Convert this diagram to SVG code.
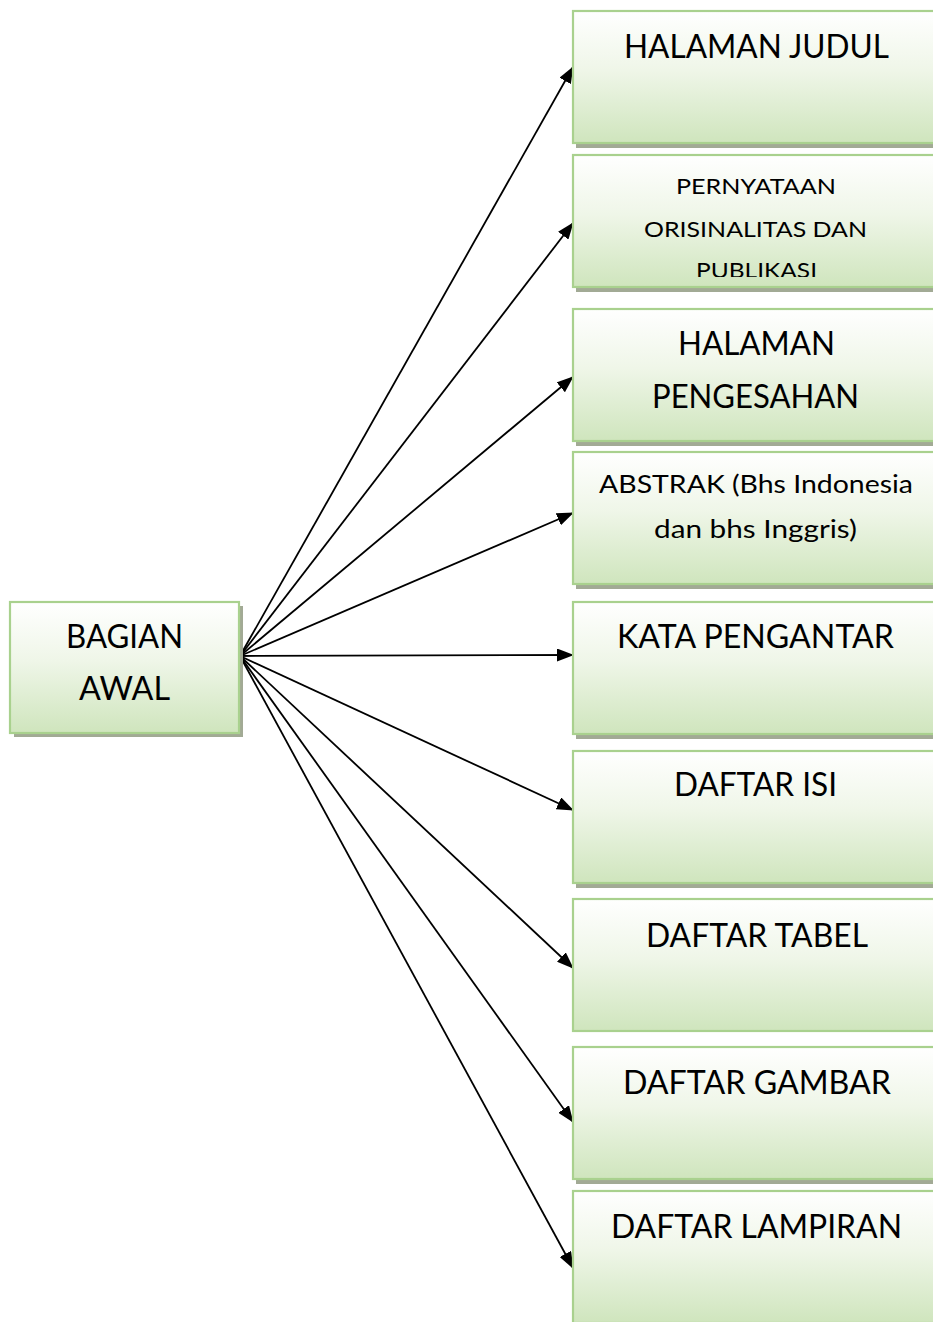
<svg xmlns="http://www.w3.org/2000/svg" width="933" height="1322" viewBox="0 0 933 1322">
<defs>
<linearGradient id="g" x1="0" y1="0" x2="0" y2="1">
<stop offset="0" stop-color="#ffffff"/>
<stop offset="0.45" stop-color="#eff6e8"/>
<stop offset="1" stop-color="#cfe5bd"/>
</linearGradient>
<marker id="ah" markerUnits="userSpaceOnUse" markerWidth="17" markerHeight="13" refX="16" refY="6.5" orient="auto">
<path d="M0,0 L17,6.5 L0,13 z" fill="#000"/>
</marker>
<clipPath id="c2"><rect x="573" y="155" width="360" height="122"/></clipPath>
</defs>
<style>
.box{fill:url(#g);stroke:#a9d18e;stroke-width:2.2}
.sh{fill:#a2aa95}
.t{font-family:Lato,"Open Sans","Noto Sans",sans-serif;fill:#000;text-anchor:middle}
.big{font-size:32px}
.med{font-size:25px}
.sm{font-size:22px}
.c{stroke:#000;stroke-width:1.8;fill:none;marker-end:url(#ah)}
</style>
<rect width="933" height="1322" fill="#fff"/>

<g id="connectors">
<line class="c" x1="240" y1="656" x2="573" y2="67"/>
<line class="c" x1="240" y1="656" x2="573" y2="223"/>
<line class="c" x1="240" y1="656" x2="573" y2="377"/>
<line class="c" x1="240" y1="656" x2="573" y2="513"/>
<line class="c" x1="240" y1="656" x2="573" y2="655"/>
<line class="c" x1="240" y1="656" x2="573" y2="810"/>
<line class="c" x1="240" y1="656" x2="573" y2="968"/>
<line class="c" x1="240" y1="656" x2="573" y2="1122"/>
<line class="c" x1="240" y1="656" x2="573" y2="1268"/>
</g>

<g id="bagian-awal">
<rect class="sh" x="14" y="606" width="229" height="131"/>
<rect class="box" x="10" y="602" width="229" height="131"/>
<text class="t big" x="124.5" y="648" textLength="117" lengthAdjust="spacingAndGlyphs">BAGIAN</text>
<text class="t big" x="124.5" y="700" textLength="91" lengthAdjust="spacingAndGlyphs">AWAL</text>
</g>

<g id="halaman-judul">
<rect class="sh" x="576" y="16" width="370" height="132"/>
<rect class="box" x="573" y="11" width="370" height="132"/>
<text class="t big" x="756.5" y="58" textLength="265" lengthAdjust="spacingAndGlyphs">HALAMAN JUDUL</text>
</g>

<g id="pernyataan">
<rect class="sh" x="576" y="160" width="370" height="132"/>
<rect class="box" x="573" y="155" width="370" height="132"/>
<g clip-path="url(#c2)">
<text class="t sm" x="756" y="194" textLength="160" lengthAdjust="spacingAndGlyphs">PERNYATAAN</text>
<text class="t sm" x="755.5" y="237" textLength="223" lengthAdjust="spacingAndGlyphs">ORISINALITAS DAN</text>
<text class="t sm" x="756.5" y="278" textLength="121" lengthAdjust="spacingAndGlyphs">PUBLIKASI</text>
</g>
</g>

<g id="halaman-pengesahan">
<rect class="sh" x="576" y="314" width="370" height="132"/>
<rect class="box" x="573" y="309" width="370" height="132"/>
<text class="t big" x="756.5" y="355" textLength="157" lengthAdjust="spacingAndGlyphs">HALAMAN</text>
<text class="t big" x="755.5" y="408" textLength="207" lengthAdjust="spacingAndGlyphs">PENGESAHAN</text>
</g>

<g id="abstrak">
<rect class="sh" x="576" y="457" width="370" height="132"/>
<rect class="box" x="573" y="452" width="370" height="132"/>
<text class="t med" x="756" y="493" textLength="314" lengthAdjust="spacingAndGlyphs">ABSTRAK (Bhs Indonesia</text>
<text class="t med" x="755.5" y="538" textLength="203" lengthAdjust="spacingAndGlyphs">dan bhs Inggris)</text>
</g>

<g id="kata-pengantar">
<rect class="sh" x="576" y="607" width="370" height="132"/>
<rect class="box" x="573" y="602" width="370" height="132"/>
<text class="t big" x="755.5" y="648" textLength="277" lengthAdjust="spacingAndGlyphs">KATA PENGANTAR</text>
</g>

<g id="daftar-isi">
<rect class="sh" x="576" y="756" width="370" height="132"/>
<rect class="box" x="573" y="751" width="370" height="132"/>
<text class="t big" x="755.5" y="796" textLength="163" lengthAdjust="spacingAndGlyphs">DAFTAR ISI</text>
</g>

<g id="daftar-tabel">
<rect class="box" x="573" y="899" width="370" height="132"/>
<text class="t big" x="757" y="947" textLength="222" lengthAdjust="spacingAndGlyphs">DAFTAR TABEL</text>
</g>

<g id="daftar-gambar">
<rect class="sh" x="576" y="1052" width="370" height="132"/>
<rect class="box" x="573" y="1047" width="370" height="132"/>
<text class="t big" x="757" y="1094" textLength="268" lengthAdjust="spacingAndGlyphs">DAFTAR GAMBAR</text>
</g>

<g id="daftar-lampiran">
<rect class="sh" x="576" y="1196" width="370" height="132"/>
<rect class="box" x="573" y="1191" width="370" height="132"/>
<text class="t big" x="756.5" y="1238" textLength="291" lengthAdjust="spacingAndGlyphs">DAFTAR LAMPIRAN</text>
</g>
</svg>
